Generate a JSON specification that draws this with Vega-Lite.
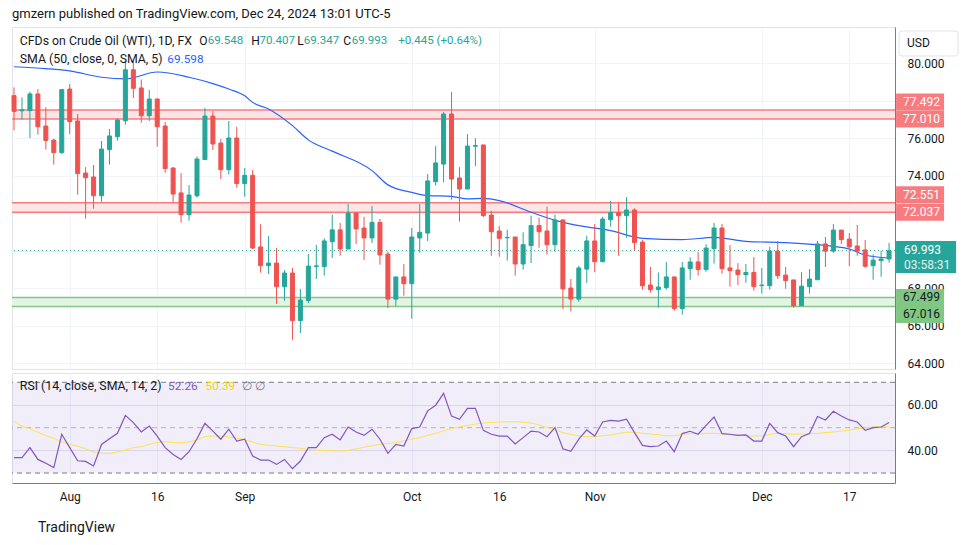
{
"$schema":"https://vega.github.io/schema/vega-lite/v6.json",
"background":"white",
"padding":{"left":10,"top":7,"right":4,"bottom":4},
"config":{"font":"Roboto","view":{"stroke":"#e0e3eb"},"axis":{"labelFont":"Roboto","labelColor":"#131722","labelFontSize":12}},
"title":{"text":"gmzern published on TradingView.com, Dec 24, 2024 13:01 UTC-5","anchor":"start","frame":"group","fontSize":13,"fontWeight":"normal","color":"#131722","font":"Roboto","offset":6},
"datasets":{
"one":[{}],
"bars":[
{"d":"2024-07-23","o":78.26,"h":78.7,"l":76.4,"c":77.42,"r":36.8,"m":52.9},
{"d":"2024-07-24","o":77.45,"h":78.17,"l":76.98,"c":77.5,"r":36.8,"m":50.7},
{"d":"2024-07-25","o":77.46,"h":78.47,"l":76.0,"c":78.35,"r":41.2,"m":49.5},
{"d":"2024-07-26","o":78.35,"h":78.61,"l":76.18,"c":76.6,"r":36.0,"m":48.0},
{"d":"2024-07-29","o":76.64,"h":77.64,"l":75.38,"c":75.86,"r":34.3,"m":46.5},
{"d":"2024-07-30","o":75.89,"h":75.95,"l":74.58,"c":75.22,"r":32.4,"m":45.2},
{"d":"2024-07-31","o":75.22,"h":78.61,"l":75.15,"c":78.58,"r":47.1,"m":43.8},
{"d":"2024-08-01","o":78.61,"h":78.88,"l":76.21,"c":76.87,"r":41.2,"m":42.6},
{"d":"2024-08-02","o":76.91,"h":77.28,"l":72.98,"c":74.1,"r":35.4,"m":41.8},
{"d":"2024-08-05","o":74.13,"h":74.45,"l":71.7,"c":73.88,"r":35.1,"m":40.7},
{"d":"2024-08-06","o":73.92,"h":74.56,"l":72.23,"c":72.92,"r":33.1,"m":39.3},
{"d":"2024-08-07","o":72.92,"h":75.84,"l":72.6,"c":75.41,"r":42.6,"m":38.7},
{"d":"2024-08-08","o":75.38,"h":76.48,"l":74.58,"c":76.11,"r":45.1,"m":38.7},
{"d":"2024-08-09","o":76.07,"h":77.05,"l":75.86,"c":76.96,"r":47.5,"m":39.3},
{"d":"2024-08-12","o":76.92,"h":80.12,"l":76.71,"c":79.64,"r":55.4,"m":40.1},
{"d":"2024-08-13","o":79.64,"h":80.09,"l":78.13,"c":78.65,"r":52.2,"m":41.2},
{"d":"2024-08-14","o":78.67,"h":79.12,"l":76.82,"c":77.19,"r":48.1,"m":41.6},
{"d":"2024-08-15","o":77.19,"h":78.56,"l":76.91,"c":78.08,"r":50.7,"m":42.6},
{"d":"2024-08-16","o":78.08,"h":78.1,"l":75.54,"c":76.6,"r":46.3,"m":43.5},
{"d":"2024-08-19","o":76.64,"h":76.85,"l":74.15,"c":74.37,"r":41.2,"m":43.8},
{"d":"2024-08-20","o":74.4,"h":74.45,"l":72.53,"c":73.01,"r":38.2,"m":43.4},
{"d":"2024-08-21","o":73.07,"h":74.13,"l":71.48,"c":71.91,"r":36.0,"m":43.4},
{"d":"2024-08-22","o":71.91,"h":73.49,"l":71.59,"c":72.96,"r":39.4,"m":43.8},
{"d":"2024-08-23","o":72.92,"h":75.02,"l":72.82,"c":74.88,"r":45.1,"m":44.6},
{"d":"2024-08-26","o":74.85,"h":77.6,"l":74.85,"c":77.17,"r":51.9,"m":46.0},
{"d":"2024-08-27","o":77.17,"h":77.44,"l":75.36,"c":75.68,"r":48.5,"m":46.3},
{"d":"2024-08-28","o":75.73,"h":75.95,"l":73.81,"c":74.31,"r":44.9,"m":46.3},
{"d":"2024-08-29","o":74.31,"h":76.91,"l":74.05,"c":76.0,"r":49.3,"m":45.9},
{"d":"2024-08-30","o":76.0,"h":76.59,"l":73.35,"c":73.57,"r":44.1,"m":45.4},
{"d":"2024-09-02","o":73.57,"h":74.4,"l":72.87,"c":74.01,"r":44.9,"m":44.6},
{"d":"2024-09-03","o":74.01,"h":74.29,"l":70.08,"c":70.13,"r":37.5,"m":43.7},
{"d":"2024-09-04","o":70.19,"h":71.4,"l":68.82,"c":69.19,"r":35.7,"m":42.6},
{"d":"2024-09-05","o":69.19,"h":70.77,"l":68.75,"c":69.33,"r":35.7,"m":42.3},
{"d":"2024-09-06","o":69.33,"h":70.13,"l":67.15,"c":68.07,"r":33.8,"m":41.9},
{"d":"2024-09-09","o":68.07,"h":68.96,"l":67.32,"c":68.8,"r":36.0,"m":41.6},
{"d":"2024-09-10","o":68.8,"h":69.07,"l":65.24,"c":66.26,"r":31.9,"m":41.2},
{"d":"2024-09-11","o":66.26,"h":67.95,"l":65.6,"c":67.36,"r":35.3,"m":40.9},
{"d":"2024-09-12","o":67.33,"h":69.81,"l":67.2,"c":69.17,"r":41.2,"m":40.4},
{"d":"2024-09-13","o":69.15,"h":70.3,"l":68.48,"c":69.18,"r":41.2,"m":40.1},
{"d":"2024-09-16","o":69.14,"h":70.65,"l":68.66,"c":70.51,"r":45.6,"m":39.9},
{"d":"2024-09-17","o":70.47,"h":71.91,"l":69.6,"c":71.1,"r":47.1,"m":39.8},
{"d":"2024-09-18","o":71.1,"h":71.47,"l":69.72,"c":70.08,"r":44.6,"m":39.7},
{"d":"2024-09-19","o":70.08,"h":72.48,"l":70.08,"c":72.0,"r":50.3,"m":40.0},
{"d":"2024-09-20","o":72.0,"h":72.0,"l":70.35,"c":71.15,"r":48.1,"m":40.6},
{"d":"2024-09-23","o":71.2,"h":71.8,"l":69.49,"c":70.67,"r":46.6,"m":41.4},
{"d":"2024-09-24","o":70.67,"h":72.37,"l":70.4,"c":71.5,"r":49.3,"m":42.0},
{"d":"2024-09-25","o":71.5,"h":71.68,"l":69.25,"c":69.76,"r":44.9,"m":42.6},
{"d":"2024-09-26","o":69.81,"h":69.94,"l":66.93,"c":67.41,"r":38.7,"m":43.0},
{"d":"2024-09-27","o":67.41,"h":68.59,"l":67.04,"c":68.59,"r":42.6,"m":43.4},
{"d":"2024-09-30","o":68.59,"h":69.28,"l":67.59,"c":68.23,"r":41.9,"m":44.2},
{"d":"2024-10-01","o":68.23,"h":71.2,"l":66.36,"c":70.72,"r":49.6,"m":45.0},
{"d":"2024-10-02","o":70.67,"h":72.48,"l":69.88,"c":70.97,"r":50.3,"m":45.6},
{"d":"2024-10-03","o":70.93,"h":74.08,"l":70.51,"c":73.71,"r":57.4,"m":46.6},
{"d":"2024-10-04","o":73.67,"h":75.57,"l":73.46,"c":74.67,"r":59.9,"m":47.5},
{"d":"2024-10-07","o":74.61,"h":77.39,"l":73.64,"c":77.28,"r":65.1,"m":48.6},
{"d":"2024-10-08","o":77.28,"h":78.45,"l":72.71,"c":73.81,"r":55.1,"m":49.6},
{"d":"2024-10-09","o":73.87,"h":74.45,"l":71.54,"c":73.28,"r":53.7,"m":50.3},
{"d":"2024-10-10","o":73.28,"h":76.21,"l":73.28,"c":75.57,"r":58.5,"m":51.0},
{"d":"2024-10-11","o":75.56,"h":75.99,"l":74.51,"c":75.6,"r":58.5,"m":51.6},
{"d":"2024-10-14","o":75.63,"h":75.63,"l":71.79,"c":71.86,"r":48.8,"m":52.0},
{"d":"2024-10-15","o":71.89,"h":72.11,"l":69.72,"c":71.0,"r":47.1,"m":52.3},
{"d":"2024-10-16","o":71.04,"h":71.31,"l":69.67,"c":70.65,"r":46.3,"m":52.5},
{"d":"2024-10-17","o":70.68,"h":71.11,"l":69.46,"c":70.7,"r":46.3,"m":52.6},
{"d":"2024-10-18","o":70.72,"h":70.72,"l":68.66,"c":69.28,"r":42.8,"m":52.6},
{"d":"2024-10-21","o":69.28,"h":70.97,"l":68.98,"c":70.31,"r":45.6,"m":52.4},
{"d":"2024-10-22","o":70.26,"h":71.86,"l":69.33,"c":71.33,"r":48.5,"m":52.0},
{"d":"2024-10-23","o":71.33,"h":71.75,"l":70.15,"c":71.0,"r":48.1,"m":51.2},
{"d":"2024-10-24","o":71.04,"h":72.34,"l":69.78,"c":70.31,"r":46.0,"m":50.1},
{"d":"2024-10-25","o":70.31,"h":71.91,"l":69.94,"c":71.63,"r":50.0,"m":49.0},
{"d":"2024-10-28","o":71.63,"h":71.63,"l":66.88,"c":67.95,"r":40.7,"m":47.8},
{"d":"2024-10-29","o":68.0,"h":68.48,"l":66.74,"c":67.41,"r":39.6,"m":47.0},
{"d":"2024-10-30","o":67.41,"h":69.19,"l":67.27,"c":69.07,"r":44.9,"m":46.4},
{"d":"2024-10-31","o":69.01,"h":70.79,"l":68.27,"c":70.51,"r":49.0,"m":46.0},
{"d":"2024-11-01","o":70.51,"h":71.41,"l":68.84,"c":69.4,"r":46.3,"m":46.0},
{"d":"2024-11-04","o":69.4,"h":71.8,"l":69.4,"c":71.68,"r":52.5,"m":46.5},
{"d":"2024-11-05","o":71.64,"h":72.64,"l":71.27,"c":72.02,"r":53.2,"m":46.8},
{"d":"2024-11-06","o":72.02,"h":72.57,"l":69.72,"c":71.86,"r":52.9,"m":47.4},
{"d":"2024-11-07","o":71.86,"h":72.85,"l":70.68,"c":72.16,"r":53.7,"m":48.0},
{"d":"2024-11-08","o":72.16,"h":72.25,"l":69.99,"c":70.42,"r":47.8,"m":48.0},
{"d":"2024-11-11","o":70.45,"h":70.56,"l":67.91,"c":68.12,"r":42.2,"m":47.5},
{"d":"2024-11-12","o":68.16,"h":69.12,"l":67.75,"c":67.91,"r":41.6,"m":47.2},
{"d":"2024-11-13","o":67.91,"h":68.83,"l":66.95,"c":68.05,"r":41.9,"m":46.9},
{"d":"2024-11-14","o":68.02,"h":69.39,"l":67.91,"c":68.59,"r":44.1,"m":46.4},
{"d":"2024-11-15","o":68.59,"h":68.59,"l":66.79,"c":66.9,"r":39.4,"m":46.5},
{"d":"2024-11-18","o":66.9,"h":69.39,"l":66.58,"c":69.07,"r":47.4,"m":47.0},
{"d":"2024-11-19","o":69.03,"h":69.64,"l":68.44,"c":69.39,"r":48.4,"m":47.4},
{"d":"2024-11-20","o":69.39,"h":69.92,"l":68.66,"c":68.98,"r":47.1,"m":47.5},
{"d":"2024-11-21","o":68.98,"h":70.33,"l":68.87,"c":70.13,"r":51.0,"m":47.5},
{"d":"2024-11-22","o":70.1,"h":71.47,"l":69.3,"c":71.2,"r":54.7,"m":47.5},
{"d":"2024-11-25","o":71.2,"h":71.41,"l":68.76,"c":69.03,"r":47.4,"m":47.2},
{"d":"2024-11-26","o":69.07,"h":70.29,"l":68.07,"c":68.92,"r":47.1,"m":46.8},
{"d":"2024-11-27","o":68.96,"h":69.33,"l":68.16,"c":68.71,"r":46.6,"m":46.6},
{"d":"2024-11-28","o":68.71,"h":69.28,"l":68.28,"c":68.83,"r":46.8,"m":46.5},
{"d":"2024-11-29","o":68.83,"h":69.65,"l":67.86,"c":68.07,"r":44.1,"m":46.3},
{"d":"2024-12-02","o":68.13,"h":69.07,"l":67.7,"c":68.16,"r":44.1,"m":46.4},
{"d":"2024-12-03","o":68.12,"h":70.19,"l":67.91,"c":69.97,"r":51.9,"m":47.0},
{"d":"2024-12-04","o":69.97,"h":70.51,"l":68.48,"c":68.66,"r":47.8,"m":47.5},
{"d":"2024-12-05","o":68.69,"h":69.12,"l":67.96,"c":68.39,"r":46.3,"m":47.3},
{"d":"2024-12-06","o":68.43,"h":68.43,"l":66.95,"c":67.06,"r":41.6,"m":47.1},
{"d":"2024-12-09","o":67.06,"h":68.85,"l":67.06,"c":68.1,"r":46.0,"m":47.2},
{"d":"2024-12-10","o":68.07,"h":69.01,"l":67.7,"c":68.48,"r":47.4,"m":47.3},
{"d":"2024-12-11","o":68.44,"h":70.51,"l":68.44,"c":70.35,"r":54.9,"m":47.5},
{"d":"2024-12-12","o":70.35,"h":70.72,"l":69.12,"c":69.97,"r":53.4,"m":47.8},
{"d":"2024-12-13","o":69.97,"h":71.41,"l":69.88,"c":71.09,"r":57.2,"m":48.1},
{"d":"2024-12-16","o":71.09,"h":71.09,"l":70.35,"c":70.58,"r":55.1,"m":48.5},
{"d":"2024-12-17","o":70.61,"h":70.93,"l":69.17,"c":70.19,"r":53.4,"m":48.9},
{"d":"2024-12-18","o":70.24,"h":71.36,"l":69.72,"c":69.97,"r":52.5,"m":49.5},
{"d":"2024-12-19","o":70.03,"h":70.56,"l":69.07,"c":69.16,"r":48.8,"m":49.9},
{"d":"2024-12-20","o":69.19,"h":69.79,"l":68.44,"c":69.49,"r":50.0,"m":50.3},
{"d":"2024-12-23","o":69.46,"h":69.97,"l":68.6,"c":69.55,"r":50.3,"m":50.4},
{"d":"2024-12-24","o":69.548,"h":70.407,"l":69.347,"c":69.993,"r":52.26,"m":50.39}
],
"sma":[{"d":"2024-07-23","v":79.8},{"d":"2024-07-29","v":79.7},{"d":"2024-08-01","v":79.58},{"d":"2024-08-07","v":79.24},{"d":"2024-08-12","v":79.15},{"d":"2024-08-16","v":79.52},{"d":"2024-08-22","v":79.24},{"d":"2024-08-27","v":78.9},{"d":"2024-08-29","v":78.61},{"d":"2024-09-02","v":78.25},{"d":"2024-09-03","v":77.9},{"d":"2024-09-05","v":77.55},{"d":"2024-09-10","v":76.66},{"d":"2024-09-12","v":75.9},{"d":"2024-09-17","v":75.3},{"d":"2024-09-24","v":74.26},{"d":"2024-09-26","v":73.5},{"d":"2024-10-01","v":73.1},{"d":"2024-10-03","v":72.93},{"d":"2024-10-08","v":72.89},{"d":"2024-10-10","v":72.75},{"d":"2024-10-14","v":72.78},{"d":"2024-10-16","v":72.66},{"d":"2024-10-22","v":72.04},{"d":"2024-10-28","v":71.5},{"d":"2024-10-31","v":71.26},{"d":"2024-11-05","v":71.06},{"d":"2024-11-11","v":70.65},{"d":"2024-11-18","v":70.58},{"d":"2024-11-22","v":70.7},{"d":"2024-11-28","v":70.49},{"d":"2024-12-05","v":70.42},{"d":"2024-12-11","v":70.31},{"d":"2024-12-17","v":70.08},{"d":"2024-12-19","v":69.76},{"d":"2024-12-24","v":69.6}],
"zones":[{"hi":77.492,"lo":77.01,"kind":"res"},{"hi":72.551,"lo":72.037,"kind":"res"},{"hi":67.499,"lo":67.016,"kind":"sup"}],
"labels":[{"v":77.492,"t":"77.492","kind":"res","edge":"hi"},{"v":77.01,"t":"77.010","kind":"res","edge":"lo"},{"v":72.551,"t":"72.551","kind":"res","edge":"hi"},{"v":72.037,"t":"72.037","kind":"res","edge":"lo"},{"v":67.499,"t":"67.499","kind":"sup","edge":"hi"},{"v":67.016,"t":"67.016","kind":"sup","edge":"lo"}],
"last":[{"d":"2024-12-24","v":69.993,"t":"69.993","timer":"03:58:31"}],
"levels":[{"v":70,"k":"band"},{"v":50,"k":"mid"},{"v":30,"k":"band"}]
},
"spacing":2,
"vconcat":[
{
"width":883,"height":342,
"layer":[
{"data":{"name":"zones"},"mark":{"type":"rect"},
 "encoding":{"y":{"field":"hi","type":"quantitative","title":null,"scale":{"domain":[63.68,81.92],"nice":false,"zero":false},
   "axis":{"orient":"right","title":null,"values":[64,66,68,70,72,74,76,78,80],"labelExpr":"(datum.value==70||datum.value==72||datum.value==78) ? '' : format(datum.value,'.3f')","grid":true,"gridColor":"#f0f3fa","domain":true,"domainColor":"#787b86","ticks":false,"tickSize":0,"labelPadding":12,"labelAlign":"left","labelFontSize":12,"labelColor":"#131722"}},
  "y2":{"field":"lo"},
  "color":{"condition":{"test":"datum.kind=='res'","value":"#fde4e5"},"value":"#e4f4e4"}}},
{"data":{"name":"zones"},"mark":{"type":"rule","strokeWidth":1.5},
 "encoding":{"y":{"field":"hi","type":"quantitative","title":null},"color":{"condition":{"test":"datum.kind=='res'","value":"#f77c80"},"value":"#81c784"}}},
{"data":{"name":"zones"},"mark":{"type":"rule","strokeWidth":1.5},
 "encoding":{"y":{"field":"lo","type":"quantitative","title":null},"color":{"condition":{"test":"datum.kind=='res'","value":"#f77c80"},"value":"#81c784"}}},
{"data":{"name":"last"},"mark":{"type":"rule","strokeWidth":1,"strokeDash":[1,3],"color":"#26a69a"},
 "encoding":{"y":{"field":"v","type":"quantitative","title":null}}},
{"data":{"name":"sma"},"mark":{"type":"line","strokeWidth":1.2,"color":"#2962ff","interpolate":"monotone"},
 "encoding":{"x":{"field":"d","type":"ordinal","title":null},"y":{"field":"v","type":"quantitative","title":null}}},
{"data":{"name":"bars"},"mark":{"type":"rule","strokeWidth":1},
 "encoding":{"x":{"field":"d","type":"ordinal","title":null,"scale":{"type":"point","paddingOuter":0.42,"align":0.254},
   "axis":{"title":null,"labels":false,"ticks":false,"domain":false,"grid":true,"gridColor":"#f0f3fa","values":["2024-08-01","2024-08-16","2024-09-02","2024-10-01","2024-10-16","2024-11-01","2024-12-02","2024-12-17"]}},
  "y":{"field":"l","type":"quantitative","title":null},"y2":{"field":"h"},
  "color":{"condition":{"test":"datum.c >= datum.o","value":"#26a69a"},"value":"#ef5350"}}},
{"data":{"name":"bars"},"mark":{"type":"bar","size":4,"strokeWidth":1},
 "encoding":{"x":{"field":"d","type":"ordinal","title":null},
  "y":{"field":"o","type":"quantitative","title":null},"y2":{"field":"c"},
  "color":{"condition":{"test":"datum.c >= datum.o","value":"#26a69a"},"value":"#ef5350"},
  "stroke":{"condition":{"test":"datum.c >= datum.o","value":"#26a69a"},"value":"#ef5350"}}},
{"data":{"name":"labels"},"transform":[{"filter":"datum.kind=='res' && datum.edge=='hi'"}],
 "mark":{"type":"point","filled":true,"opacity":1,"size":2304,"shape":"M0.292,-0.687H2.292V0.021H0.292Z"},
 "encoding":{"x":{"datum":"2024-12-24","type":"ordinal"},"y":{"field":"v","type":"quantitative","title":null},"color":{"condition":{"test":"datum.kind=='res'","value":"#f77c80"},"value":"#81c784"}}},
{"data":{"name":"labels"},"transform":[{"filter":"datum.kind=='sup' && datum.edge=='lo'"}],
 "mark":{"type":"point","filled":true,"opacity":1,"size":2304,"shape":"M0.292,-0.021H2.292V0.687H0.292Z"},
 "encoding":{"x":{"datum":"2024-12-24","type":"ordinal"},"y":{"field":"v","type":"quantitative","title":null},"color":{"condition":{"test":"datum.kind=='res'","value":"#f77c80"},"value":"#81c784"}}},
{"data":{"name":"labels"},"transform":[{"filter":"!((datum.kind=='res' && datum.edge=='hi') || (datum.kind=='sup' && datum.edge=='lo'))"}],
 "mark":{"type":"point","filled":true,"opacity":1,"size":2304,"shape":"M0.292,-0.354H2.292V0.354H0.292Z"},
 "encoding":{"x":{"datum":"2024-12-24","type":"ordinal"},"y":{"field":"v","type":"quantitative","title":null},"color":{"condition":{"test":"datum.kind=='res'","value":"#f77c80"},"value":"#81c784"}}},
{"data":{"name":"labels"},"transform":[{"filter":"datum.kind=='res' && datum.edge=='hi'"}],
 "mark":{"type":"text","align":"left","baseline":"middle","dx":14,"dy":-8,"fontSize":12,"color":"white"},
 "encoding":{"x":{"datum":"2024-12-24","type":"ordinal"},"y":{"field":"v","type":"quantitative","title":null},"text":{"field":"t"}}},
{"data":{"name":"labels"},"transform":[{"filter":"datum.kind=='res' && datum.edge=='lo'"}],
 "mark":{"type":"text","align":"left","baseline":"middle","dx":14,"dy":0,"fontSize":12,"color":"white"},
 "encoding":{"x":{"datum":"2024-12-24","type":"ordinal"},"y":{"field":"v","type":"quantitative","title":null},"text":{"field":"t"}}},
{"data":{"name":"labels"},"transform":[{"filter":"datum.kind=='sup' && datum.edge=='hi'"}],
 "mark":{"type":"text","align":"left","baseline":"middle","dx":14,"dy":0,"fontSize":12,"color":"#131722"},
 "encoding":{"x":{"datum":"2024-12-24","type":"ordinal"},"y":{"field":"v","type":"quantitative","title":null},"text":{"field":"t"}}},
{"data":{"name":"labels"},"transform":[{"filter":"datum.kind=='sup' && datum.edge=='lo'"}],
 "mark":{"type":"text","align":"left","baseline":"middle","dx":14,"dy":8,"fontSize":12,"color":"#131722"},
 "encoding":{"x":{"datum":"2024-12-24","type":"ordinal"},"y":{"field":"v","type":"quantitative","title":null},"text":{"field":"t"}}},
{"data":{"name":"last"},"mark":{"type":"point","filled":true,"opacity":1,"size":3600,"color":"#26a69a","shape":"M0.233,-0.32H2.233V0.747H0.233Z"},
 "encoding":{"x":{"field":"d","type":"ordinal","title":null},"y":{"field":"v","type":"quantitative","title":null}}},
{"data":{"name":"last"},"mark":{"type":"text","align":"left","baseline":"middle","dx":15,"dy":-1,"fontSize":12,"color":"white"},
 "encoding":{"x":{"field":"d","type":"ordinal","title":null},"y":{"field":"v","type":"quantitative","title":null},"text":{"field":"t"}}},
{"data":{"name":"last"},"mark":{"type":"text","align":"left","baseline":"middle","dx":15,"dy":14,"fontSize":12,"color":"#e0f2f1"},
 "encoding":{"x":{"field":"d","type":"ordinal","title":null},"y":{"field":"v","type":"quantitative","title":null},"text":{"field":"timer"}}},
{"data":{"name":"one"},"mark":{"type":"point","filled":true,"opacity":1,"size":3600,"fill":"white","stroke":"#e0e3eb","strokeWidth":1,"shape":"M0.433,-0.417H2.2Q2.3,-0.417 2.3,-0.317V0.317Q2.3,0.417 2.2,0.417H0.433Q0.333,0.417 0.333,0.317V-0.317Q0.333,-0.417 0.433,-0.417Z"},
 "encoding":{"x":{"datum":"2024-12-24","type":"ordinal"},"y":{"datum":81.04,"type":"quantitative"}}},
{"data":{"name":"one"},"mark":{"type":"text","text":"USD","align":"left","baseline":"middle","dx":18,"fontSize":12,"color":"#131722"},
 "encoding":{"x":{"datum":"2024-12-24","type":"ordinal"},"y":{"datum":81.06,"type":"quantitative"}}},
{"data":{"name":"one"},"mark":{"type":"text","text":"CFDs on Crude Oil (WTI), 1D, FX","align":"left","baseline":"middle","dx":5.8,"fontSize":12.3,"color":"#131722"},
 "encoding":{"x":{"datum":"2024-07-23","type":"ordinal"},"y":{"datum":81.19,"type":"quantitative"}}},
{"data":{"name":"one"},"mark":{"type":"text","text":"O","align":"left","baseline":"middle","dx":185.3,"fontSize":12,"color":"#131722"},
 "encoding":{"x":{"datum":"2024-07-23","type":"ordinal"},"y":{"datum":81.19,"type":"quantitative"}}},
{"data":{"name":"one"},"mark":{"type":"text","text":"69.548","align":"left","baseline":"middle","dx":193.8,"fontSize":11.5,"color":"#26a69a"},
 "encoding":{"x":{"datum":"2024-07-23","type":"ordinal"},"y":{"datum":81.19,"type":"quantitative"}}},
{"data":{"name":"one"},"mark":{"type":"text","text":"H","align":"left","baseline":"middle","dx":237.3,"fontSize":12,"color":"#131722"},
 "encoding":{"x":{"datum":"2024-07-23","type":"ordinal"},"y":{"datum":81.19,"type":"quantitative"}}},
{"data":{"name":"one"},"mark":{"type":"text","text":"70.407","align":"left","baseline":"middle","dx":245.6,"fontSize":11.5,"color":"#26a69a"},
 "encoding":{"x":{"datum":"2024-07-23","type":"ordinal"},"y":{"datum":81.19,"type":"quantitative"}}},
{"data":{"name":"one"},"mark":{"type":"text","text":"L","align":"left","baseline":"middle","dx":283.3,"fontSize":12,"color":"#131722"},
 "encoding":{"x":{"datum":"2024-07-23","type":"ordinal"},"y":{"datum":81.19,"type":"quantitative"}}},
{"data":{"name":"one"},"mark":{"type":"text","text":"69.347","align":"left","baseline":"middle","dx":289.8,"fontSize":11.5,"color":"#26a69a"},
 "encoding":{"x":{"datum":"2024-07-23","type":"ordinal"},"y":{"datum":81.19,"type":"quantitative"}}},
{"data":{"name":"one"},"mark":{"type":"text","text":"C","align":"left","baseline":"middle","dx":329.3,"fontSize":12,"color":"#131722"},
 "encoding":{"x":{"datum":"2024-07-23","type":"ordinal"},"y":{"datum":81.19,"type":"quantitative"}}},
{"data":{"name":"one"},"mark":{"type":"text","text":"69.993","align":"left","baseline":"middle","dx":337.8,"fontSize":11.5,"color":"#26a69a"},
 "encoding":{"x":{"datum":"2024-07-23","type":"ordinal"},"y":{"datum":81.19,"type":"quantitative"}}},
{"data":{"name":"one"},"mark":{"type":"text","text":"+0.445 (+0.64%)","align":"left","baseline":"middle","dx":384.3,"fontSize":11.5,"color":"#26a69a"},
 "encoding":{"x":{"datum":"2024-07-23","type":"ordinal"},"y":{"datum":81.19,"type":"quantitative"}}},
{"data":{"name":"one"},"mark":{"type":"text","text":"SMA (50, close, 0, SMA, 5)","align":"left","baseline":"middle","dx":5.8,"fontSize":12.3,"color":"#131722"},
 "encoding":{"x":{"datum":"2024-07-23","type":"ordinal"},"y":{"datum":80.24,"type":"quantitative"}}},
{"data":{"name":"one"},"mark":{"type":"text","text":"69.598","align":"left","baseline":"middle","dx":153.3,"fontSize":11.8,"color":"#2962ff"},
 "encoding":{"x":{"datum":"2024-07-23","type":"ordinal"},"y":{"datum":80.24,"type":"quantitative"}}}
]
},
{
"width":883,"height":110,
"title":{"text":"TradingView","orient":"bottom","anchor":"start","frame":"group","fontSize":14,"fontWeight":"normal","color":"#131722","font":"Roboto","offset":19,"dx":26},
"layer":[
{"data":{"name":"one"},"mark":{"type":"rect","color":"#7e57c2","opacity":0.1},
 "encoding":{"y":{"datum":70,"type":"quantitative","scale":{"domain":[25.6,74.1],"nice":false,"zero":false},
   "axis":{"orient":"right","title":null,"values":[40,60],"format":".2f","grid":true,"gridColor":"#e6e1f2","domain":true,"domainColor":"#787b86","ticks":false,"tickSize":0,"labelPadding":12,"labelAlign":"left","labelFontSize":12,"labelColor":"#131722"}},
  "y2":{"datum":30}}},
{"data":{"name":"levels"},"mark":{"type":"rule","strokeWidth":1,"strokeDash":[5,4],"color":"#787b86"},
 "encoding":{"y":{"field":"v","type":"quantitative","title":null},
  "opacity":{"condition":{"test":"datum.k=='mid'","value":0.5},"value":1}}},
{"data":{"name":"bars"},"mark":{"type":"line","strokeWidth":1,"color":"#fce34d","interpolate":"monotone"},
 "encoding":{"x":{"field":"d","type":"ordinal","title":null,"scale":{"type":"point","paddingOuter":0.42,"align":0.254},
   "axis":{"title":null,"labelAngle":0,"ticks":false,"domain":true,"domainColor":"#787b86","grid":true,"gridColor":"#f0f3fa","labelPadding":8,"labelFontSize":12,"labelColor":"#131722",
    "values":["2024-08-01","2024-08-16","2024-09-02","2024-10-01","2024-10-16","2024-11-01","2024-12-02","2024-12-17"],
    "labelExpr":"datum.value=='2024-08-01'?'Aug':datum.value=='2024-09-02'?'Sep':datum.value=='2024-10-01'?'Oct':datum.value=='2024-11-01'?'Nov':datum.value=='2024-12-02'?'Dec':datum.value=='2024-12-17'?'17':'16'"}},
  "y":{"field":"m","type":"quantitative","title":null}}},
{"data":{"name":"bars"},"mark":{"type":"line","strokeWidth":1.2,"color":"#7e57c2"},
 "encoding":{"x":{"field":"d","type":"ordinal","title":null},"y":{"field":"r","type":"quantitative","title":null}}},
{"data":{"name":"one"},"mark":{"type":"text","text":"RSI (14, close, SMA, 14, 2)","align":"left","baseline":"middle","dx":5.8,"fontSize":12.3,"color":"#131722"},
 "encoding":{"x":{"datum":"2024-07-23","type":"ordinal"},"y":{"datum":68.4,"type":"quantitative"}}},
{"data":{"name":"one"},"mark":{"type":"text","text":"52.26","align":"left","baseline":"middle","dx":154,"fontSize":11.8,"color":"#7e57c2"},
 "encoding":{"x":{"datum":"2024-07-23","type":"ordinal"},"y":{"datum":68.4,"type":"quantitative"}}},
{"data":{"name":"one"},"mark":{"type":"text","text":"50.39","align":"left","baseline":"middle","dx":191.6,"fontSize":11.8,"color":"#f2d600"},
 "encoding":{"x":{"datum":"2024-07-23","type":"ordinal"},"y":{"datum":68.4,"type":"quantitative"}}},
{"data":{"name":"one"},"mark":{"type":"text","text":"∅ ∅","align":"left","baseline":"middle","dx":227.6,"fontSize":12.3,"color":"#787b86"},
 "encoding":{"x":{"datum":"2024-07-23","type":"ordinal"},"y":{"datum":68.4,"type":"quantitative"}}}
]
}
]
}
